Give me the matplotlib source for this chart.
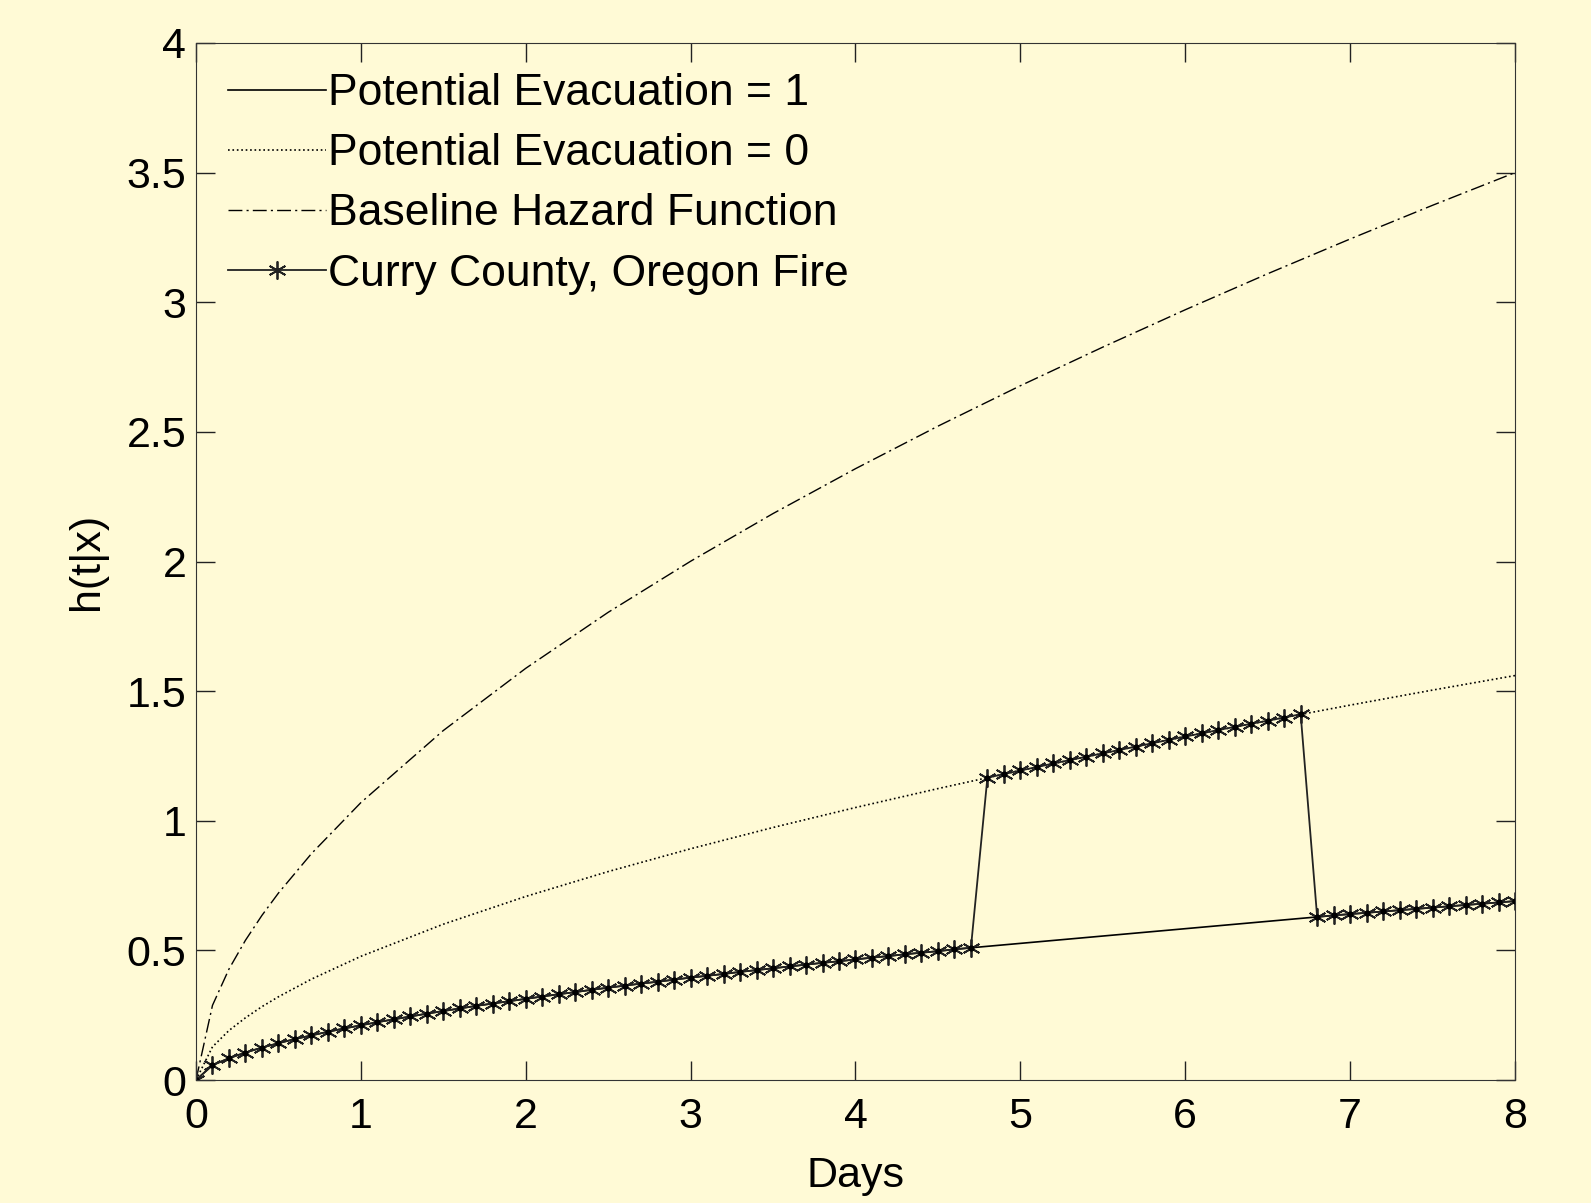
import numpy as np
import matplotlib.pyplot as plt

plt.rcParams['font.family'] = ['Liberation Sans', 'DejaVu Sans']

bg = '#fffad6'

# Curry County, Oregon fire: one point every 0.1 day
t_curry = [round(0.1 * i, 1) for i in range(81)]
h_curry = [0, 0.057, 0.084, 0.106, 0.125, 0.142, 0.158, 0.172, 0.186, 0.199,
           0.211, 0.223, 0.234, 0.245, 0.256, 0.266, 0.276, 0.286, 0.295, 0.304,
           0.313, 0.322, 0.331, 0.339, 0.348, 0.356, 0.364, 0.372, 0.379, 0.387,
           0.395, 0.402, 0.409, 0.417, 0.424, 0.431, 0.438, 0.445, 0.452, 0.458,
           0.465, 0.472, 0.478, 0.485, 0.491, 0.497, 0.504, 0.510,
           1.166, 1.180, 1.194, 1.207, 1.221, 1.234, 1.247, 1.260, 1.273, 1.286,
           1.299, 1.312, 1.325, 1.337, 1.350, 1.362, 1.374, 1.386, 1.398, 1.411,
           0.629, 0.635, 0.640, 0.645, 0.650, 0.655, 0.660, 0.665, 0.670, 0.675,
           0.680, 0.685, 0.690]
evac_flag = [1] * 48 + [0] * 20 + [1] * 13

# potential evacuation = 1 (only where the fire had evacuation)
t_e1 = [t for t, f in zip(t_curry, evac_flag) if f == 1]
h_e1 = [h for h, f in zip(h_curry, evac_flag) if f == 1]

# smooth curves
t_s = [0, 0.1, 0.2, 0.3, 0.4, 0.5, 0.7, 1, 1.5, 2, 2.5, 3, 3.5, 4, 4.5,
       5, 5.5, 6, 6.5, 7, 7.5, 8]
h_e0 = [0, 0.128, 0.191, 0.240, 0.283, 0.321, 0.389, 0.477, 0.601, 0.708,
        0.804, 0.892, 0.974, 1.051, 1.124, 1.194, 1.260, 1.325, 1.386, 1.446,
        1.504, 1.560]
h_base = [0, 0.288, 0.428, 0.539, 0.635, 0.721, 0.873, 1.07, 1.348, 1.588,
          1.804, 2.001, 2.185, 2.358, 2.522, 2.678, 2.827, 2.971, 3.110, 3.244,
          3.374, 3.500]

fig = plt.figure(figsize=(15.91, 12.03), dpi=100, facecolor=bg)
ax = fig.add_axes([196 / 1591, 1 - 1080 / 1203, (1515 - 196) / 1591, (1080 - 43) / 1203])
ax.set_facecolor(bg)

ax.plot(t_e1, h_e1, '-', color='k', lw=1.2, label='Potential Evacuation = 1')
ax.plot(t_s, h_e0, ':', color='k', lw=1.2, label='Potential Evacuation = 0')
ax.plot(t_s, h_base, '-.', color='k', lw=1.0, dashes=(10, 3, 1.5, 3), label='Baseline Hazard Function')
ax.plot(t_curry, h_curry, '-', color='#222222', lw=1.3, marker=(6, 2, 0), ms=13,
        mew=1.3, label='Curry County, Oregon Fire')
ax.plot(t_curry, h_curry, 'o', color='k', ms=3.5)

ax.set_xlim(0, 8)
ax.set_ylim(0, 4)
ax.set_xticks(range(9))
ax.set_yticks([0, 0.5, 1, 1.5, 2, 2.5, 3, 3.5, 4])
ax.set_yticklabels(['0', '0.5', '1', '1.5', '2', '2.5', '3', '3.5', '4'])
ax.tick_params(direction='in', top=True, right=True, length=14, width=1,
               labelsize=31, colors='#222222')
ax.tick_params(axis='x', labelcolor='k', pad=12)
ax.tick_params(axis='y', labelcolor='k', pad=7)
for s in ax.spines.values():
    s.set_color('#333333')

ax.set_xlabel('Days', fontsize=31, labelpad=14)
ax.set_ylabel('h(t|x)', fontsize=31, labelpad=14)

leg = ax.legend(loc='upper left', frameon=False, fontsize=32, handlelength=2.2,
                handletextpad=0.05, labelspacing=0.43, borderaxespad=0,
                bbox_to_anchor=(0.0106, 0.988))

fig.savefig('out.png', dpi=100, facecolor=bg)
